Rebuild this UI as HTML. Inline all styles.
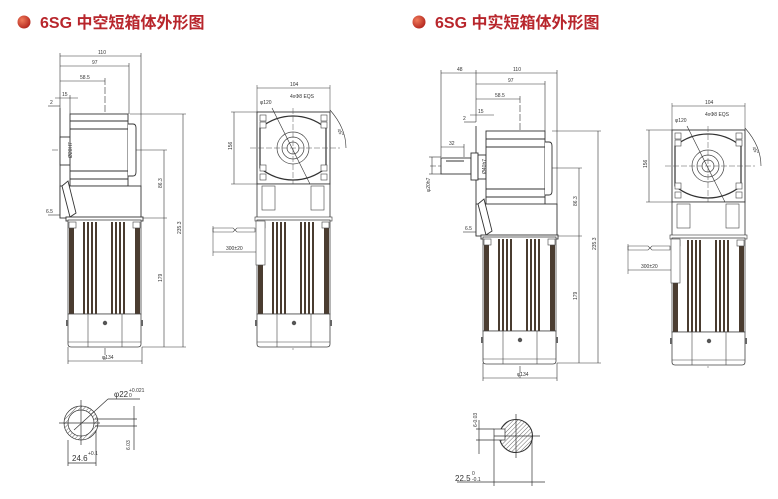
<!DOCTYPE html>
<html><head><meta charset="utf-8"><style>
html,body{margin:0;padding:0;background:#fff;width:778px;height:499px;overflow:hidden}
svg{display:block}
.t{font-family:"Liberation Sans","Noto Sans CJK SC",sans-serif;font-weight:bold;font-size:16px;fill:#b8262c}
.s{font-family:"Liberation Sans",sans-serif;font-size:5px;fill:#333}
.m{font-family:"Liberation Sans",sans-serif;font-size:8px;fill:#333}
</style></head><body>
<svg width="778" height="499" viewBox="0 0 778 499" xmlns="http://www.w3.org/2000/svg">
<defs>
<radialGradient id="rg" cx="0.35" cy="0.35" r="0.7"><stop offset="0" stop-color="#f07a5a"/><stop offset="1" stop-color="#b3261e"/></radialGradient>
<pattern id="hat" width="3" height="3" patternUnits="userSpaceOnUse" patternTransform="rotate(45)"><line x1="0" y1="0" x2="0" y2="3" stroke="#444" stroke-width="0.8"/></pattern>
<g id="fins">
<rect x="0" y="0" width="73" height="94" fill="#fff" stroke="#444" stroke-width="0.8"/>
<rect x="1" y="2" width="5" height="92" fill="#4a3c30"/>
<rect x="67" y="2" width="5" height="92" fill="#4a3c30"/>
<rect x="15" y="2" width="2" height="92" fill="#4a3c30"/>
<rect x="19" y="2" width="2" height="92" fill="#4a3c30"/>
<rect x="23" y="2" width="2" height="92" fill="#4a3c30"/>
<rect x="27" y="2" width="2" height="92" fill="#4a3c30"/>
<rect x="43" y="2" width="2" height="92" fill="#4a3c30"/>
<rect x="47" y="2" width="2" height="92" fill="#4a3c30"/>
<rect x="51" y="2" width="2" height="92" fill="#4a3c30"/>
<rect x="55" y="2" width="2" height="92" fill="#4a3c30"/>
<rect x="1" y="2" width="7" height="6" fill="#fff" stroke="#444" stroke-width="0.6"/>
<rect x="65" y="2" width="7" height="6" fill="#fff" stroke="#444" stroke-width="0.6"/>
<path d="M0 94 H73 V124 Q73 127 70 127 H3 Q0 127 0 124 Z" fill="#fff" stroke="#444" stroke-width="0.8"/>
<line x1="20" y1="94" x2="20" y2="127" stroke="#444" stroke-width="0.6"/>
<line x1="54" y1="94" x2="54" y2="127" stroke="#444" stroke-width="0.6"/>
<line x1="0" y1="122" x2="73" y2="122" stroke="#444" stroke-width="0.5"/>
<circle cx="37" cy="103" r="2.2" fill="#555"/>
<rect x="-2" y="100" width="2" height="6" fill="#666"/>
<rect x="73" y="100" width="2" height="6" fill="#666"/>
</g>
<g id="front">
<line x1="257" y1="88" x2="330" y2="88" stroke="#333" stroke-width="0.6"/>
<line x1="257" y1="85" x2="257" y2="112" stroke="#333" stroke-width="0.5"/>
<line x1="330" y1="85" x2="330" y2="112" stroke="#333" stroke-width="0.5"/>
<text x="290" y="86" class="s">104</text>
<text x="290" y="98" class="s">4xΦ8  EQS</text>
<text x="260" y="104" class="s">φ120</text>
<line x1="234" y1="112" x2="234" y2="184" stroke="#333" stroke-width="0.6"/>
<line x1="231" y1="112" x2="257" y2="112" stroke="#333" stroke-width="0.5"/>
<line x1="231" y1="184" x2="257" y2="184" stroke="#333" stroke-width="0.5"/>
<text x="232" y="150" class="s" transform="rotate(-90 232 150)">156</text>
<rect x="257" y="112" width="73" height="72" fill="#fff" stroke="#333" stroke-width="0.9"/>
<path d="M260 128 Q275 116 293 116 Q311 116 326 128 V168 Q311 180 293 180 Q275 180 260 168 Z" fill="none" stroke="#333" stroke-width="1.2"/>
<g fill="#fff" stroke="#444" stroke-width="0.6">
<rect x="260" y="115" width="6" height="6"/><rect x="321" y="115" width="6" height="6"/>
<rect x="260" y="122" width="6" height="6"/><rect x="321" y="122" width="6" height="6"/>
<rect x="260" y="165" width="6" height="6"/><rect x="321" y="165" width="6" height="6"/>
<rect x="260" y="174" width="6" height="6"/><rect x="321" y="174" width="6" height="6"/>
</g>
<circle cx="293" cy="148" r="16" fill="none" stroke="#444" stroke-width="0.7"/>
<circle cx="293" cy="148" r="11" fill="none" stroke="#444" stroke-width="0.7"/>
<circle cx="293" cy="148" r="6" fill="none" stroke="#444" stroke-width="0.7"/>
<line x1="250" y1="148" x2="340" y2="148" stroke="#555" stroke-width="0.5" stroke-dasharray="6 2"/>
<line x1="293" y1="108" x2="293" y2="350" stroke="#555" stroke-width="0.5" stroke-dasharray="6 2"/>
<line x1="272" y1="108" x2="312" y2="188" stroke="#333" stroke-width="0.6"/>
<path d="M330 110 Q346 128 346 148" fill="none" stroke="#333" stroke-width="0.6"/>
<text x="337" y="130" class="s" transform="rotate(60 337 130)">45°</text>
<rect x="257" y="184" width="73" height="34" fill="#fff" stroke="#333" stroke-width="0.8"/>
<rect x="262" y="186" width="13" height="24" fill="none" stroke="#444" stroke-width="0.6"/>
<rect x="311" y="186" width="13" height="24" fill="none" stroke="#444" stroke-width="0.6"/>
<rect x="255" y="217" width="77" height="4" fill="#fff" stroke="#333" stroke-width="0.6"/>
<use href="#fins" x="257" y="220"/>
<rect x="256" y="221" width="9" height="44" fill="#fff" stroke="#444" stroke-width="0.6"/>
<path d="M213 228 H233 l2 2 l-2 2 H213 Z M237 228 H255 V232 H237 l-2 -2 Z" fill="#fff" stroke="#444" stroke-width="0.6"/>
<line x1="213" y1="226" x2="213" y2="256" stroke="#333" stroke-width="0.5"/>
<line x1="213" y1="252" x2="256" y2="252" stroke="#333" stroke-width="0.6"/>
<text x="226" y="250" class="s">300±20</text>
</g>
</defs>

<circle cx="24" cy="22" r="6.5" fill="url(#rg)"/>
<text x="40" y="28" class="t">6SG 中空短箱体外形图</text>
<circle cx="419" cy="22" r="6.5" fill="url(#rg)"/>
<text x="435" y="28" class="t">6SG 中实短箱体外形图</text>

<!-- LEFT SIDE VIEW -->
<g stroke="#333" stroke-width="0.6" fill="none">
<line x1="60" y1="56" x2="141" y2="56"/><line x1="60" y1="66" x2="129" y2="66"/><line x1="60" y1="81" x2="105" y2="81"/>
<line x1="60" y1="53" x2="60" y2="108"/><line x1="141" y1="53" x2="141" y2="186"/><line x1="129" y1="63" x2="129" y2="114"/><line x1="105" y1="78" x2="105" y2="360" stroke-dasharray="7 2"/>
<line x1="55" y1="98" x2="78" y2="98"/><line x1="48" y1="106" x2="60" y2="106"/><line x1="70" y1="95" x2="70" y2="114"/>
<line x1="48" y1="215" x2="62" y2="215"/>
<line x1="164" y1="150" x2="164" y2="347"/><line x1="183" y1="114" x2="183" y2="347"/>
<line x1="130" y1="114" x2="186" y2="114"/><line x1="105" y1="150" x2="167" y2="150"/><line x1="141" y1="218" x2="167" y2="218"/><line x1="142" y1="347" x2="186" y2="347"/>
<line x1="68" y1="361" x2="142" y2="361"/><line x1="68" y1="347" x2="68" y2="364"/><line x1="142" y1="347" x2="142" y2="364"/>
<line x1="52" y1="150" x2="80" y2="150" stroke-dasharray="6 2"/>
</g>
<g stroke="#333" stroke-width="0.9" fill="#fff">
<path d="M60 108 V218"/>
<rect x="60" y="137" width="12" height="28"/>
<rect x="70" y="114" width="58" height="72"/>
<line x1="70" y1="121" x2="128" y2="121"/><line x1="70" y1="129" x2="128" y2="129"/>
<line x1="70" y1="171" x2="128" y2="171"/><line x1="70" y1="179" x2="128" y2="179"/>
<path d="M128 124 H133 Q136 124 136 128 V172 Q136 176 133 176 H128"/>
<rect x="60" y="186" width="81" height="32"/>
<path d="M62 186 L68 181 L76 213 L70 217 Z"/>
<rect x="66" y="217" width="77" height="4"/>
</g>
<use href="#fins" x="68" y="220"/>
<g class="s">
<text x="98" y="54">110</text><text x="92" y="64">97</text><text x="80" y="79">58.5</text>
<text x="62" y="96">15</text><text x="50" y="104">2</text><text x="46" y="213">6.5</text>
<text x="102" y="359">φ134</text>
<text x="162" y="188" transform="rotate(-90 162 188)">86.3</text>
<text x="162" y="282" transform="rotate(-90 162 282)">179</text>
<text x="181" y="234" transform="rotate(-90 181 234)">235.3</text>
<text x="72" y="158" transform="rotate(-90 72 158)">Ø20H7</text>
</g>

<use href="#front"/>

<!-- LEFT SECTION -->
<g stroke="#333" stroke-width="0.7" fill="none">
<circle cx="81" cy="423" r="17" fill="url(#hat)"/>
<circle cx="81" cy="423" r="13" fill="#fff"/>
<line x1="59" y1="423" x2="100" y2="423"/><line x1="81" y1="400" x2="81" y2="445"/>
<line x1="74" y1="430" x2="108" y2="399"/><line x1="108" y1="399" x2="140" y2="399"/>
<line x1="95" y1="419" x2="137" y2="419"/><line x1="95" y1="426" x2="137" y2="426"/>
<line x1="134" y1="406" x2="134" y2="450"/>
<line x1="68" y1="440" x2="68" y2="466"/><line x1="96" y1="430" x2="96" y2="466"/>
<line x1="68" y1="463" x2="96" y2="463"/>
</g>
<text x="114" y="397" class="m">φ22</text><text x="129" y="392" class="s">+0.021</text><text x="129" y="397" class="s">0</text>
<text x="72" y="461" class="m">24.6</text><text x="88" y="455" class="s">+0.1</text>
<text x="130" y="450" class="s" transform="rotate(-90 130 450)">6.03</text>

<!-- RIGHT SIDE VIEW -->
<g stroke="#333" stroke-width="0.6" fill="none">
<line x1="441" y1="73" x2="557" y2="73"/><line x1="476" y1="84" x2="545" y2="84"/><line x1="476" y1="99" x2="520" y2="99"/>
<line x1="441" y1="70" x2="441" y2="157"/><line x1="476" y1="70" x2="476" y2="122"/><line x1="557" y1="70" x2="557" y2="205"/><line x1="545" y1="81" x2="545" y2="131"/><line x1="520" y1="96" x2="520" y2="378" stroke-dasharray="7 2"/>
<line x1="470" y1="115" x2="494" y2="115"/><line x1="464" y1="122" x2="476" y2="122"/>
<line x1="441" y1="147" x2="464" y2="147"/><line x1="464" y1="144" x2="464" y2="157"/>
<line x1="432" y1="157" x2="432" y2="174"/><line x1="429" y1="157" x2="441" y2="157"/><line x1="429" y1="174" x2="441" y2="174"/>
<line x1="463" y1="232" x2="478" y2="232"/>
<line x1="579" y1="168" x2="579" y2="363"/><line x1="598" y1="131" x2="598" y2="363"/>
<line x1="552" y1="131" x2="601" y2="131"/><line x1="520" y1="168" x2="582" y2="168"/><line x1="557" y1="236" x2="582" y2="236"/><line x1="557" y1="363" x2="601" y2="363"/>
<line x1="483" y1="378" x2="557" y2="378"/><line x1="483" y1="363" x2="483" y2="381"/><line x1="557" y1="363" x2="557" y2="381"/>
<line x1="430" y1="166" x2="500" y2="166" stroke-dasharray="6 2"/>
</g>
<g stroke="#333" stroke-width="0.9" fill="#fff">
<path d="M476 126 V236"/>
<rect x="441" y="158" width="30" height="16"/>
<line x1="446" y1="161" x2="464" y2="161"/>
<rect x="471" y="153" width="7" height="27"/>
<rect x="478" y="155" width="8" height="24"/>
<rect x="486" y="131" width="59" height="74"/>
<line x1="486" y1="139" x2="545" y2="139"/><line x1="486" y1="147" x2="545" y2="147"/>
<line x1="486" y1="189" x2="545" y2="189"/><line x1="486" y1="197" x2="545" y2="197"/>
<path d="M545 142 H549 Q552 142 552 146 V191 Q552 195 549 195 H545"/>
<rect x="476" y="204" width="81" height="32"/>
<path d="M478 204 L484 199 L492 231 L486 235 Z"/>
<rect x="481" y="235" width="77" height="4"/>
</g>
<use href="#fins" x="483" y="237"/>
<g class="s">
<text x="457" y="71">48</text><text x="513" y="71">110</text><text x="508" y="82">97</text><text x="495" y="97">58.5</text>
<text x="478" y="113">15</text><text x="463" y="120">2</text><text x="449" y="145">32</text><text x="465" y="230">6.5</text>
<text x="517" y="376">φ134</text>
<text x="430" y="192" transform="rotate(-90 430 192)">φ20h7</text>
<text x="486" y="174" transform="rotate(-90 486 174)">Ø40h7</text>
<text x="577" y="206" transform="rotate(-90 577 206)">86.3</text>
<text x="577" y="300" transform="rotate(-90 577 300)">179</text>
<text x="596" y="250" transform="rotate(-90 596 250)">235.3</text>
</g>

<use href="#front" transform="translate(415 18)"/>

<!-- RIGHT SECTION -->
<g stroke="#333" stroke-width="0.7" fill="none">
<circle cx="516" cy="436" r="16.5" fill="url(#hat)" stroke-width="1.1"/>
<rect x="494" y="429" width="11" height="11" fill="#fff"/>
<line x1="494" y1="436" x2="540" y2="436"/><line x1="516" y1="414" x2="516" y2="458"/>
<line x1="476" y1="429" x2="494" y2="429"/><line x1="476" y1="440" x2="494" y2="440"/>
<line x1="479" y1="420" x2="479" y2="454"/>
<line x1="494" y1="440" x2="494" y2="486"/><line x1="532" y1="436" x2="532" y2="486"/>
<line x1="457" y1="482" x2="545" y2="482"/>
</g>
<text x="455" y="481" class="m">22.5</text><text x="472" y="475" class="s">0</text><text x="472" y="481" class="s">-0.1</text>
<text x="477" y="427" class="s" transform="rotate(-90 477 427)">6-0.03</text>
</svg>
</body></html>
